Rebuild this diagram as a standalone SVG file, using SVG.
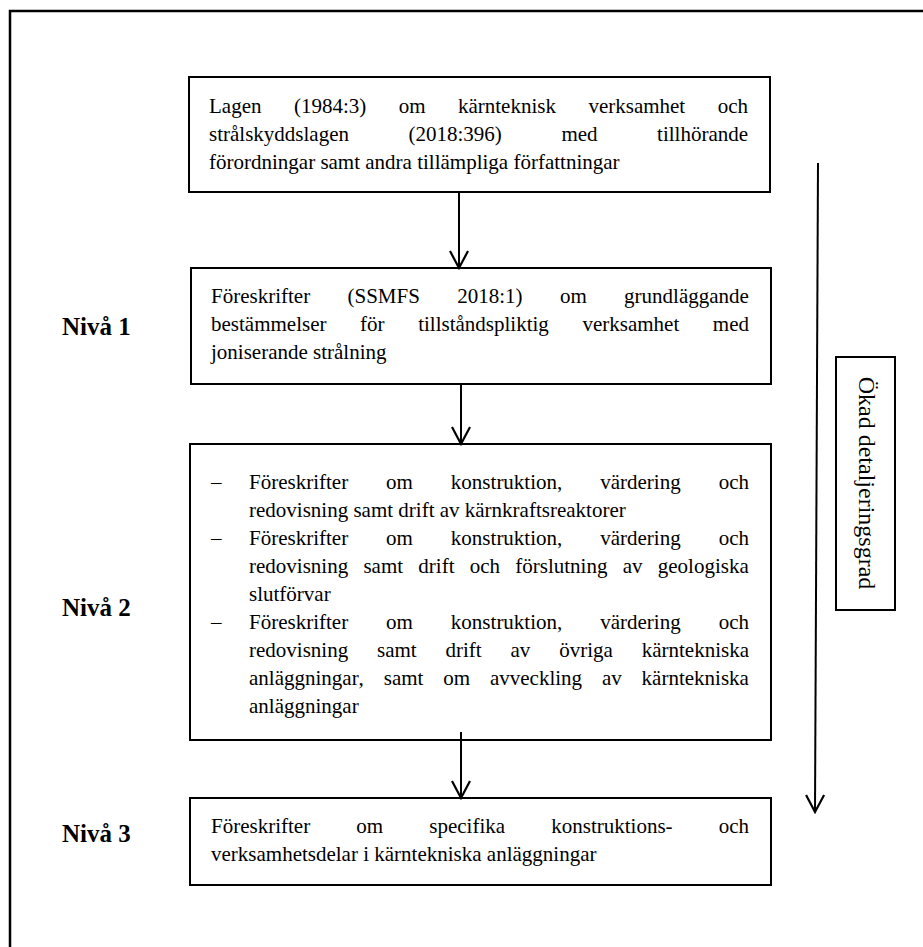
<svg xmlns="http://www.w3.org/2000/svg" width="923" height="947" viewBox="0 0 923 947">
  <defs>
    <style>
      .frame{fill:none;stroke:#000;stroke-width:2.5}
      .box{fill:#fff;stroke:#000;stroke-width:2}
      .t{font-family:"Liberation Serif","Times New Roman",serif;font-size:21px;fill:#000;font-kerning:none;font-variant-ligatures:none}
      .lvl{font-family:"Liberation Serif","Times New Roman",serif;font-size:25px;font-weight:bold;fill:#000}
      .side{font-family:"Liberation Serif","Times New Roman",serif;font-size:24px;fill:#000}
      .conn{stroke:#000;stroke-width:2;fill:none}
    </style>
    <!-- open V arrowhead, tip at the line end -->
    <marker id="vhead" viewBox="-20 -12 22 24" refX="0" refY="0" markerWidth="22" markerHeight="24" markerUnits="userSpaceOnUse" orient="auto">
      <path d="M-17,-9 L0,0 L-17,9" fill="none" stroke="#000" stroke-width="2.2"/>
    </marker>
  </defs>

  <rect width="923" height="947" fill="#fff"/>

  <!-- outer frame (open to the right and bottom) -->
  <path class="frame" d="M10,947 V11 H923"/>

  <!-- level labels -->
  <g id="levels">
    <text class="lvl" x="62" y="335">Nivå 1</text>
    <text class="lvl" x="62" y="616">Nivå 2</text>
    <text class="lvl" x="62" y="842">Nivå 3</text>
  </g>

  <g id="node-lagar">
    <rect class="box" x="189" y="77" width="581" height="115"/>
    <text class="t" x="209" y="113" word-spacing="27.2">Lagen (1984:3) om kärnteknisk verksamhet och</text>
    <text class="t" x="209" y="141" word-spacing="54.3">strålskyddslagen (2018:396) med tillhörande</text>
    <text class="t" x="209" y="169">förordningar samt andra tillämpliga författningar</text>
  </g>

  <g id="node-niva1">
    <rect class="box" x="191" y="268" width="580" height="116"/>
    <text class="t" x="211" y="303" word-spacing="32.1">Föreskrifter (SSMFS 2018:1) om grundläggande</text>
    <text class="t" x="211" y="331" word-spacing="28.35">bestämmelser för tillståndspliktig verksamhet med</text>
    <text class="t" x="211" y="359">joniserande strålning</text>
  </g>

  <g id="node-niva2">
    <rect class="box" x="190" y="444" width="581" height="296"/>
    <text class="t" x="211" y="489">–</text>
    <text class="t" x="249" y="489" word-spacing="32.7">Föreskrifter om konstruktion, värdering och</text>
    <text class="t" x="249" y="517">redovisning samt drift av kärnkraftsreaktorer</text>
    <text class="t" x="211" y="545">–</text>
    <text class="t" x="249" y="545" word-spacing="32.7">Föreskrifter om konstruktion, värdering och</text>
    <text class="t" x="249" y="573" word-spacing="10">redovisning samt drift och förslutning av geologiska</text>
    <text class="t" x="249" y="601">slutförvar</text>
    <text class="t" x="211" y="629">–</text>
    <text class="t" x="249" y="629" word-spacing="32.7">Föreskrifter om konstruktion, värdering och</text>
    <text class="t" x="249" y="657" word-spacing="23.6">redovisning samt drift av övriga kärntekniska</text>
    <text class="t" x="249" y="685" word-spacing="14.6">anläggningar, samt om avveckling av kärntekniska</text>
    <text class="t" x="249" y="713">anläggningar</text>
  </g>

  <g id="node-niva3">
    <rect class="box" x="190" y="798" width="581" height="87"/>
    <text class="t" x="211" y="833" word-spacing="40.9">Föreskrifter om specifika konstruktions- och</text>
    <text class="t" x="211" y="861">verksamhetsdelar i kärntekniska anläggningar</text>
  </g>

  <g id="node-detalj">
    <rect class="box" x="836" y="357" width="59" height="253"/>
    <text class="side" text-anchor="middle" transform="translate(859,483) rotate(90)">Ökad detaljeringsgrad</text>
  </g>

  <!-- connectors -->
  <g id="connectors">
    <line class="conn" x1="459" y1="192" x2="459" y2="268" marker-end="url(#vhead)"/>
    <line class="conn" x1="461" y1="384" x2="461" y2="444" marker-end="url(#vhead)"/>
    <line class="conn" x1="461" y1="732" x2="461" y2="798" marker-end="url(#vhead)"/>
    <line class="conn" x1="818" y1="163" x2="815" y2="812" marker-end="url(#vhead)"/>
  </g>
</svg>
